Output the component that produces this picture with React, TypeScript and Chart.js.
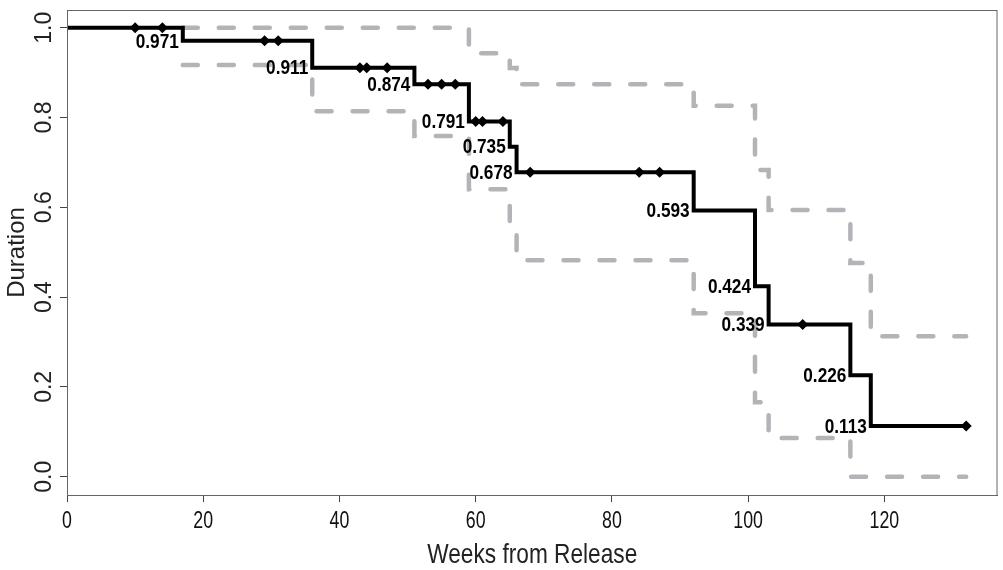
import React, { useEffect, useRef } from 'react';
import { Chart, registerables } from 'chart.js';

Chart.register(...registerables);

// Kaplan-Meier step curve (value holds from stepTimes[i] to stepTimes[i+1])
const stepTimes = [0, 17, 36, 51, 59, 65, 66, 92, 101, 103, 115, 118, 132];
const survival = [1, 0.971, 0.911, 0.874, 0.791, 0.735, 0.678, 0.593, 0.424, 0.339, 0.226, 0.113, 0.113];
const stepLabels = ['', '0.971', '0.911', '0.874', '0.791', '0.735', '0.678', '0.593', '0.424', '0.339', '0.226', '0.113', ''];

// Confidence band (dashed)
const bandTimes = [17, 36, 51, 59, 65, 66, 92, 101, 103, 115, 118, 132];
const upperCI = [1, 1, 1, 0.943, 0.91, 0.874, 0.826, 0.683, 0.594, 0.476, 0.313, 0.313];
const lowerCI = [0.917, 0.814, 0.759, 0.64, 0.558, 0.482, 0.364, 0.166, 0.086, 0, 0, 0];

// Censored observations
const censorTimes = [10, 14, 29, 31, 43, 44, 47, 53, 55, 57, 60, 61, 64, 68, 84, 87, 108, 132];
const censorSurv = [1, 1, 0.971, 0.971, 0.911, 0.911, 0.911, 0.874, 0.874, 0.874, 0.791, 0.791, 0.791, 0.678, 0.678, 0.678, 0.339, 0.113];

const xTicks = [0, 20, 40, 60, 80, 100, 120];
const yTicks = [0, 0.2, 0.4, 0.6, 0.8, 1.0];
const xTitle = 'Weeks from Release';
const yTitle = 'Duration';

const SANS = "'Liberation Sans', Arimo, Arial, sans-serif";
const BAND_COLOR = '#b3b4b7';

function narrowText(
  ctx: CanvasRenderingContext2D,
  text: string,
  x: number,
  y: number,
  font: string,
  align: CanvasTextAlign,
  sx: number,
  color: string
) {
  ctx.save();
  ctx.translate(x, y);
  ctx.scale(sx, 1);
  ctx.font = font;
  ctx.fillStyle = color;
  ctx.textAlign = align;
  ctx.textBaseline = 'middle';
  ctx.fillText(text, 0, 0);
  ctx.restore();
}

export default function App() {
  const ref = useRef<HTMLCanvasElement | null>(null);

  useEffect(() => {
    const canvas = ref.current;
    if (!canvas) return;

    const overlay = {
      id: 'kmOverlay',
      afterDatasetsDraw(chart: any) {
        const { ctx, chartArea, scales } = chart;
        const xs = scales.x;
        const ys = scales.y;
        ctx.save();
        ctx.strokeStyle = '#666';
        ctx.lineWidth = 1;
        ctx.strokeRect(chartArea.left + 0.5, chartArea.top + 0.5, chartArea.right - chartArea.left - 1, chartArea.bottom - chartArea.top);
        ctx.restore();
        for (let i = 0; i < stepTimes.length; i++) {
          const t = stepLabels[i];
          if (!t) continue;
          const px = xs.getPixelForValue(stepTimes[i]) - 4;
          const py = ys.getPixelForValue(survival[i]) + 1;
          narrowText(ctx, t, px, py, `bold 21px ${SANS}`, 'right', 0.82, '#000');
        }
      },
      afterDraw(chart: any) {
        const { ctx, scales, chartArea } = chart;
        const xs = scales.x;
        const ys = scales.y;
        // y tick labels (rotated)
        ctx.save();
        ctx.fillStyle = '#222';
        ctx.font = `23px ${SANS}`;
        ctx.textAlign = 'center';
        ctx.textBaseline = 'middle';
        for (const v of yTicks) {
          const py = ys.getPixelForValue(v);
          ctx.save();
          ctx.translate(45, py);
          ctx.rotate(-Math.PI / 2);
          ctx.fillText(v.toFixed(1), 0, 0);
          ctx.restore();
        }
        ctx.restore();
        // x tick labels
        for (const v of xTicks) {
          narrowText(ctx, String(v), xs.getPixelForValue(v), chartArea.bottom + 26, `24px ${SANS}`, 'center', 0.74, '#111');
        }
        // x title
        narrowText(ctx, xTitle, (chartArea.left + chartArea.right) / 2, chartArea.bottom + 60, `28px ${SANS}`, 'center', 0.81, '#222');
      },
    };

    const chart = new Chart(canvas, {
      type: 'line',
      data: {
        datasets: [
          {
            label: 'upper',
            data: bandTimes.map((t, i) => ({ x: t, y: upperCI[i] })),
            borderColor: BAND_COLOR,
            borderWidth: 4.5,
            borderDash: [15, 21],
            borderCapStyle: 'round',
            stepped: 'before',
            pointRadius: 0,
            fill: false,
            order: 3,
          },
          {
            label: 'lower',
            data: bandTimes.map((t, i) => ({ x: t, y: lowerCI[i] })),
            borderColor: BAND_COLOR,
            borderWidth: 4.5,
            borderDash: [15, 21],
            borderCapStyle: 'round',
            stepped: 'before',
            pointRadius: 0,
            fill: false,
            order: 3,
          },
          {
            label: 'survival',
            data: stepTimes.map((t, i) => ({ x: t, y: survival[i] })),
            borderColor: '#000',
            borderWidth: 4,
            stepped: 'before',
            pointRadius: 0,
            fill: false,
            order: 2,
          },
          {
            type: 'scatter',
            label: 'censored',
            data: censorTimes.map((t, i) => ({ x: t, y: censorSurv[i] })),
            backgroundColor: '#000',
            borderColor: '#000',
            pointStyle: 'rectRot',
            pointRadius: 5.5,
            borderWidth: 0,
            showLine: false,
            order: 1,
          } as any,
        ],
      },
      options: {
        animation: false,
        responsive: false,
        devicePixelRatio: 1,
        layout: { padding: { top: 10, right: 2, left: 0, bottom: 0 } },
        plugins: {
          legend: { display: false },
          tooltip: { enabled: false },
        },
        scales: {
          x: {
            type: 'linear',
            min: 0,
            max: 136.6,
            afterBuildTicks: (s: any) => {
              s.ticks = xTicks.map((v) => ({ value: v }));
            },
            afterFit: (s: any) => {
              s.height = 75;
            },
            grid: {
              display: true,
              drawOnChartArea: false,
              drawTicks: true,
              tickLength: 7,
              tickColor: '#444',
            },
            border: { display: true, color: '#555', width: 1 },
            ticks: { display: false },
            title: { display: false, text: xTitle },
          },
          y: {
            type: 'linear',
            min: -0.0408,
            max: 1.0394,
            afterBuildTicks: (s: any) => {
              s.ticks = yTicks.map((v) => ({ value: v }));
            },
            afterFit: (s: any) => {
              s.width = 67;
            },
            grid: {
              display: true,
              drawOnChartArea: false,
              drawTicks: true,
              tickLength: 7,
              tickColor: '#444',
            },
            border: { display: true, color: '#555', width: 1 },
            ticks: { display: false },
            title: {
              display: true,
              text: yTitle,
              color: '#222',
              font: { family: SANS, size: 24, lineHeight: 1.2 },
              padding: { top: 3, bottom: 0 },
            },
          },
        },
      },
      plugins: [overlay],
    } as any);

    return () => {
      chart.destroy();
    };
  }, []);

  return (
    <div style={{ position: 'fixed', left: 0, top: 0, width: 1003, height: 570, background: '#fff' }}>
      <canvas ref={ref} width={1003} height={570} style={{ display: 'block', width: 1003, height: 570 }} />
    </div>
  );
}
